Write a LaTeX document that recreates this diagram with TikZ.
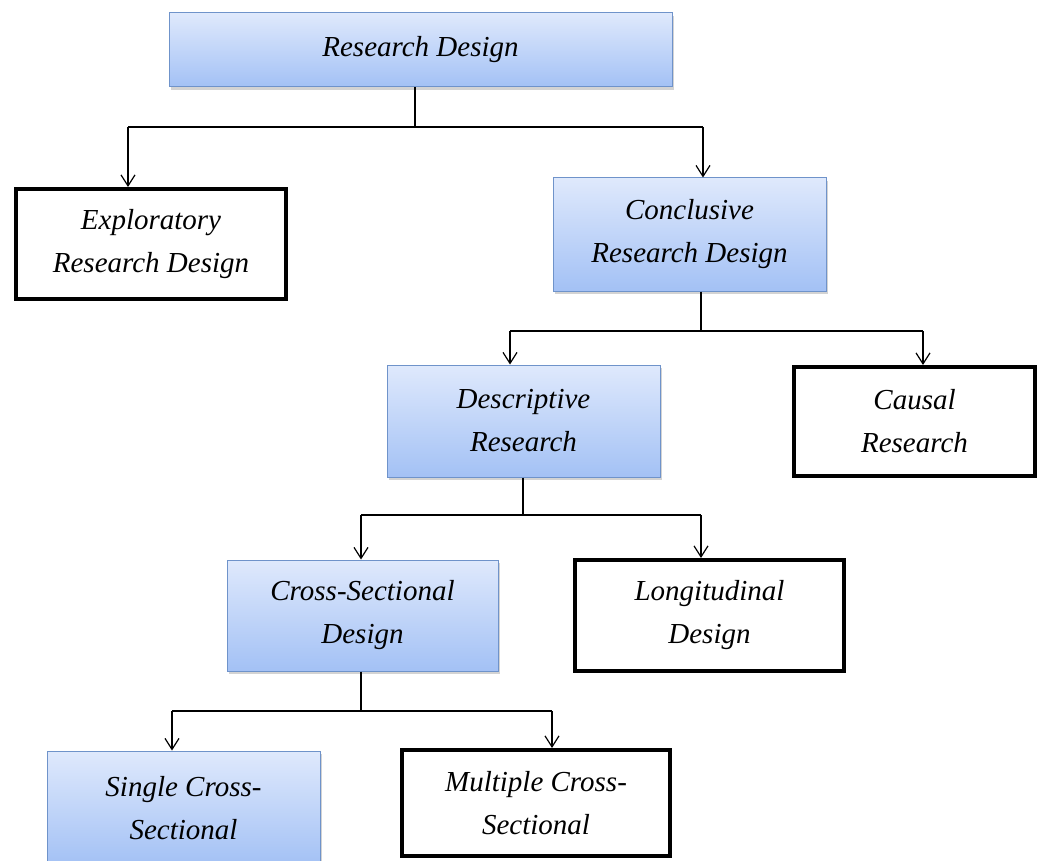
\documentclass[tikz,border=0pt]{standalone}
\usepackage{fontspec}
\setmainfont{Liberation Serif}
\usetikzlibrary{arrows.meta,shadows}
\definecolor{bluetop}{HTML}{DFE9FC}
\definecolor{bluebot}{HTML}{A3C1F5}
\definecolor{blueedge}{HTML}{6F93CA}
\begin{document}
\begin{tikzpicture}[x=1pt,y=-1pt,
  txt/.style={align=center,inner sep=0pt,font=\fontsize{29}{43}\selectfont\itshape},
  bluebox/.style={txt,draw=blueedge,line width=1pt,top color=bluetop,bottom color=bluebot,
    drop shadow={opacity=0.35,shadow xshift=2pt,shadow yshift=-3pt}},
  blackbox/.style={txt,draw=black,line width=4pt,fill=white},
  conn/.style={draw=black,line width=1.4pt},
  arw/.style={conn,-{Straight Barb[length=11pt,width=14pt,line width=1.2pt]}}]
\useasboundingbox (0,0) rectangle (1039,861);
\node[bluebox,minimum width=503pt,minimum height=74pt] (rd) at (420.5,50) {Research Design};
\node[blackbox,minimum width=270pt,minimum height=110pt] (exp) at (151,244) {Exploratory\\Research Design};
\node[bluebox,minimum width=273pt,minimum height=113pt] (con) at (689.5,234.5) {Conclusive\\Research Design};
\node[bluebox,minimum width=273pt,minimum height=112pt] (desc) at (523.5,421) {Descriptive\\Research};
\node[blackbox,minimum width=241pt,minimum height=109pt] (caus) at (914.5,421.5) {Causal\\Research};
\node[bluebox,minimum width=271pt,minimum height=111pt] (cs) at (362.5,615.5) {Cross-Sectional\\Design};
\node[blackbox,minimum width=269pt,minimum height=111pt] (lon) at (709.5,615.5) {Longitudinal\\Design};
\node[bluebox,minimum width=273pt,minimum height=114pt] (sin) at (183.5,808) {Single Cross-\\Sectional};
\node[blackbox,minimum width=268pt,minimum height=106pt] (mul) at (536,803) {Multiple Cross-\\Sectional};
% group 1
\coordinate (j1) at (415,127); \coordinate (a1) at (128,127); \coordinate (a2) at (703,127);
\draw[conn] (j1 |- rd.south) -- (j1);
\draw[conn] (a1) -- (a2);
\draw[arw] (a1) -- (a1 |- exp.north);
\draw[arw] (a2) -- (a2 |- con.north);
% group 2
\coordinate (j2) at (701,331); \coordinate (b1) at (510,331); \coordinate (b2) at (923,331);
\draw[conn] (j2 |- con.south) -- (j2);
\draw[conn] (b1) -- (b2);
\draw[arw] (b1) -- (b1 |- desc.north);
\draw[arw] (b2) -- (b2 |- caus.north);
% group 3
\coordinate (j3) at (523,515); \coordinate (c1) at (361,515); \coordinate (c2) at (701,515);
\draw[conn] (j3 |- desc.south) -- (j3);
\draw[conn] (c1) -- (c2);
\draw[arw] (c1) -- (c1 |- cs.north);
\draw[arw] (c2) -- (c2 |- lon.north);
% group 4
\coordinate (j4) at (361,711); \coordinate (d1) at (172,711); \coordinate (d2) at (552,711);
\draw[conn] (j4 |- cs.south) -- (j4);
\draw[conn] (d1) -- (d2);
\draw[arw] (d1) -- (d1 |- sin.north);
\draw[arw] (d2) -- (d2 |- mul.north);
\end{tikzpicture}
\end{document}
